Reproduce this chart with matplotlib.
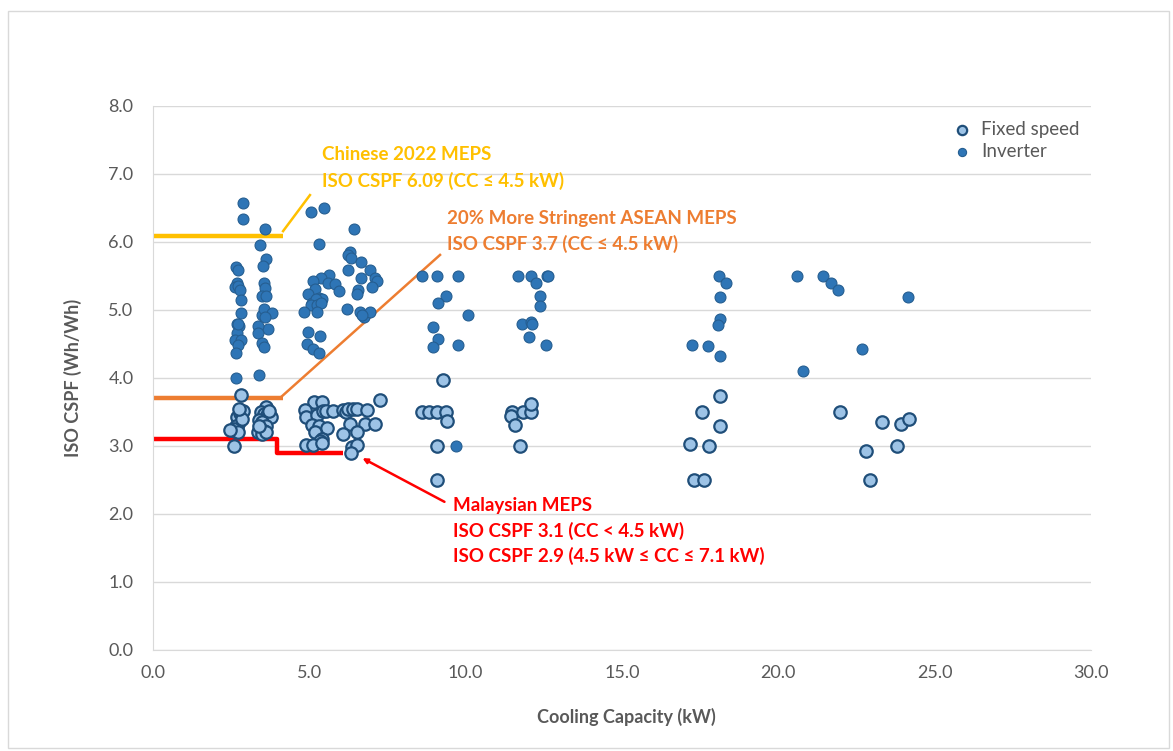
import matplotlib
matplotlib.use('Agg')
from matplotlib import pyplot as plt
from matplotlib.patches import Rectangle

plt.rcParams['font.family'] = ['Lato', 'DejaVu Sans']

# Fixed speed units (kW, Wh/Wh)
fixed_cc = [2.81, 2.60, 2.62, 2.70, 2.75, 2.68, 2.78, 2.88, 2.65, 2.58, 2.72, 2.85, 2.76, 2.45,
            3.63, 3.45, 3.55, 3.65, 3.78, 3.40, 3.50, 3.60, 3.42, 3.55, 3.35, 3.48, 3.62, 3.38, 3.70,
            5.15, 5.39, 4.86, 4.89, 5.23, 5.45, 5.53, 5.75, 6.09, 6.17, 6.25, 6.39, 6.51, 6.83, 7.26,
            5.07, 5.32, 5.55, 5.18, 6.30, 6.78, 7.10, 6.51, 6.07, 5.39, 5.34, 4.89, 5.11, 5.42, 6.35,
            6.51, 6.32,
            9.28, 8.59, 8.83, 9.08, 9.36, 9.39, 9.09, 9.07,
            11.49, 11.45, 11.58, 11.82, 12.09, 12.09, 11.74,
            18.13, 17.57, 18.13, 17.19, 17.79, 17.30, 17.63,
            21.97, 23.30, 23.92, 24.19, 22.80, 23.78, 22.93]
fixed_cspf = [3.75, 3.00, 3.22, 3.28, 3.35, 3.42, 3.48, 3.52, 3.30, 3.25, 3.20, 3.40, 3.55, 3.24,
              3.58, 3.50, 3.47, 3.45, 3.42, 3.38, 3.35, 3.30, 3.25, 3.22, 3.20, 3.18, 3.20, 3.30, 3.52,
              3.65, 3.65, 3.53, 3.43, 3.46, 3.51, 3.51, 3.52, 3.53, 3.50, 3.54, 3.55, 3.55, 3.53, 3.67,
              3.31, 3.29, 3.26, 3.21, 3.33, 3.32, 3.32, 3.21, 3.17, 3.11, 3.07, 3.02, 3.01, 3.04, 2.99,
              3.02, 2.89,
              3.97, 3.50, 3.50, 3.50, 3.50, 3.37, 3.00, 2.50,
              3.50, 3.44, 3.31, 3.50, 3.50, 3.62, 3.00,
              3.73, 3.50, 3.29, 3.03, 3.00, 2.50, 2.50,
              3.50, 3.36, 3.32, 3.39, 2.93, 3.00, 2.50]

# Inverter units (kW, Wh/Wh)
inv_cc = [2.89, 2.89, 3.58, 3.42, 3.60, 3.51, 2.65, 2.73, 2.68, 2.62, 2.73, 2.78, 3.56, 3.58,
          3.48, 3.61, 2.81, 2.81, 3.48, 3.56, 3.80, 3.69, 2.70, 2.75, 2.68, 2.62, 2.80, 2.72,
          2.65, 3.37, 3.37, 3.48, 3.56, 2.64, 3.40, 3.58, 2.71,
          5.04, 5.48, 6.44, 5.32, 6.30, 6.25, 6.33, 6.65, 6.25, 6.94, 6.65, 7.10, 7.15, 6.99,
          5.64, 5.36, 5.13, 5.61, 5.82, 5.96, 5.18, 4.95, 6.57, 6.51, 5.32, 5.40, 5.10, 5.20,
          5.05, 5.25, 5.36, 4.83, 5.25, 6.21, 6.62, 6.75, 6.94, 6.70, 4.97, 5.34, 4.93, 5.13, 5.32,
          8.59, 9.07, 9.77, 9.37, 9.12, 10.06, 8.96, 9.10, 8.96, 9.74, 9.69,
          11.68, 12.10, 12.59, 12.63, 12.25, 12.38, 12.38, 11.79, 12.09, 12.11, 12.03, 12.57,
          18.11, 18.32, 18.13, 18.13, 18.08, 17.23, 17.75, 18.13,
          20.59, 21.44, 21.67, 21.92, 24.16, 20.80, 22.66]
inv_cspf = [6.58, 6.34, 6.19, 5.96, 5.75, 5.64, 5.63, 5.59, 5.40, 5.34, 5.35, 5.29, 5.39, 5.32,
            5.20, 5.20, 5.15, 4.96, 4.93, 5.02, 4.96, 4.72, 4.80, 4.76, 4.66, 4.56, 4.56, 4.49,
            4.37, 4.76, 4.66, 4.51, 4.45, 4.00, 4.04, 4.90, 4.80,
            6.44, 6.50, 6.19, 5.97, 5.86, 5.81, 5.76, 5.70, 5.59, 5.59, 5.47, 5.47, 5.42, 5.34,
            5.51, 5.47, 5.42, 5.40, 5.38, 5.28, 5.31, 5.23, 5.29, 5.23, 5.17, 5.16, 5.10, 5.16,
            5.08, 5.07, 5.10, 4.97, 4.97, 5.01, 4.97, 4.90, 4.97, 4.93, 4.67, 4.62, 4.50, 4.42, 4.37,
            5.50, 5.50, 5.50, 5.20, 5.10, 4.92, 4.75, 4.57, 4.46, 4.49, 3.00,
            5.50, 5.50, 5.50, 5.50, 5.39, 5.20, 5.06, 4.80, 4.83, 4.79, 4.60, 4.49,
            5.50, 5.39, 5.19, 4.87, 4.78, 4.49, 4.47, 4.32,
            5.50, 5.50, 5.39, 5.29, 5.19, 4.10, 4.43]

# MEPS thresholds
china_meps = 6.09
asean_meps = 3.7
malaysia_meps_small = 3.1
malaysia_meps_large = 2.9

x_ticks = [0, 5, 10, 15, 20, 25, 30]
y_ticks = [0, 1, 2, 3, 4, 5, 6, 7, 8]

YELLOW = '#FFC000'
ORANGE = '#ED7D31'
RED = '#FF0000'
GREY_TXT = '#595959'

fig = plt.figure(figsize=(11.73, 7.51), dpi=100)
ax = fig.add_axes([153 / 1173, 1 - 650 / 751, (1091 - 153) / 1173, (650 - 106) / 751])

# chart border
fig.patches.append(Rectangle((8 / 1173, 3 / 751), 1161 / 1173, 737 / 751, transform=fig.transFigure,
                             fill=False, edgecolor='#D9D9D9', linewidth=1))

ax.scatter(fixed_cc, fixed_cspf, s=80, c='#9DC3E6', edgecolors='#1F4E79', linewidths=1.6,
           label='Fixed speed', zorder=3)
ax.scatter(inv_cc, inv_cspf, s=62, c='#2E75B6', edgecolors='#255E91', linewidths=0.8,
           label='Inverter', zorder=4)

# MEPS lines
ax.plot([0, 4.16], [china_meps, china_meps], color=YELLOW, lw=3.2, zorder=2, solid_capstyle='butt')
ax.plot([0, 4.16], [asean_meps, asean_meps], color=ORANGE, lw=3.2, zorder=2, solid_capstyle='butt')
ax.plot([0, 3.98, 3.98, 6.08],
        [malaysia_meps_small, malaysia_meps_small, malaysia_meps_large, malaysia_meps_large],
        color=RED, lw=3.2, zorder=2, solid_capstyle='butt')

# leader lines
ax.plot([4.16, 5.02], [6.16, 6.69], color=YELLOW, lw=1.8, zorder=2)
ax.plot([4.12, 9.18], [3.73, 5.81], color=ORANGE, lw=1.8, zorder=2)
ax.annotate('', xy=(6.62, 2.84), xytext=(9.40, 2.16),
            arrowprops=dict(arrowstyle='-|>', color=RED, lw=1.8, mutation_scale=7), zorder=2)

fs = 13.5
ax.text(5.40, 7.28, 'Chinese 2022 MEPS', color=YELLOW, fontsize=fs, fontweight='bold', va='center')
ax.text(5.40, 6.90, 'ISO CSPF 6.09 (CC ≤ 4.5 kW)', color=YELLOW, fontsize=fs, fontweight='bold',
        va='center')
ax.text(9.40, 6.35, '20% More Stringent ASEAN MEPS', color=ORANGE, fontsize=fs, fontweight='bold',
        va='center')
ax.text(9.40, 5.97, 'ISO CSPF 3.7 (CC ≤ 4.5 kW)', color=ORANGE, fontsize=fs, fontweight='bold',
        va='center')
ax.text(9.59, 2.13, 'Malaysian MEPS', color=RED, fontsize=fs, fontweight='bold', va='center')
ax.text(9.59, 1.75, 'ISO CSPF 3.1 (CC < 4.5 kW)', color=RED, fontsize=fs, fontweight='bold',
        va='center')
ax.text(9.59, 1.38, 'ISO CSPF 2.9 (4.5 kW ≤ CC ≤ 7.1 kW)', color=RED, fontsize=fs,
        fontweight='bold', va='center')

ax.set_xlim(0, 30)
ax.set_ylim(0, 8)
ax.set_xticks(x_ticks)
ax.set_xticklabels([f'{v:.1f}' for v in x_ticks])
ax.set_yticks(y_ticks)
ax.set_yticklabels([f'{v:.1f}' for v in y_ticks])
ax.tick_params(length=0, labelsize=13, labelcolor=GREY_TXT)
ax.tick_params(axis='y', pad=14)
ax.tick_params(axis='x', pad=11)
ax.grid(axis='y', color='#D9D9D9', lw=1)
ax.set_axisbelow(True)
for side in ['top', 'right']:
    ax.spines[side].set_visible(False)
ax.spines['left'].set_color('#D9D9D9')
ax.spines['bottom'].set_color('#D9D9D9')

fig.text(626 / 1173, 1 - 717 / 751, 'Cooling Capacity (kW)', ha='center', va='center',
         fontsize=13, fontweight='bold', color=GREY_TXT)
fig.text(73 / 1173, 1 - 378 / 751, 'ISO CSPF (Wh/Wh)', ha='center', va='center', rotation=90,
         fontsize=13, fontweight='bold', color=GREY_TXT)

leg = ax.legend(loc='upper left', bbox_to_anchor=(934 / 1173, 1 - 112 / 751),
                bbox_transform=fig.transFigure, frameon=False, fontsize=13.5, handletextpad=0.0,
                labelspacing=0.25, borderpad=0, markerscale=0.75)
for t in leg.get_texts():
    t.set_color(GREY_TXT)

fig.savefig('out.png', dpi=100)
